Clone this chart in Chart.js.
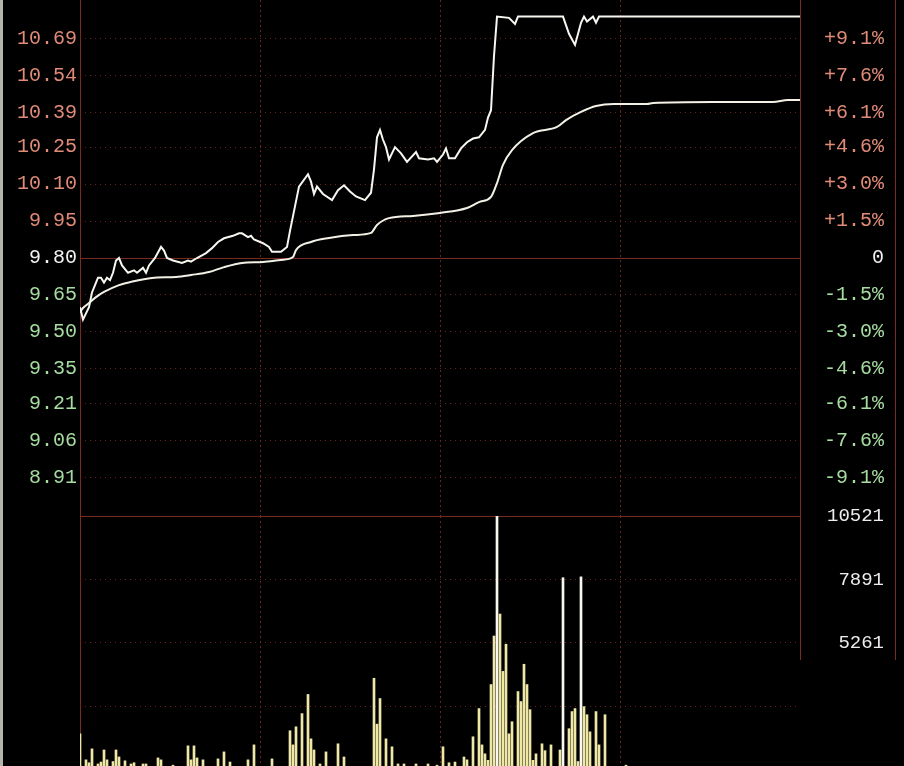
<!DOCTYPE html>
<html>
<head>
<meta charset="utf-8">
<script src="https://cdn.jsdelivr.net/npm/chart.js@4.4.1/dist/chart.umd.min.js"></script>
<style>
  html, body { margin: 0; padding: 0; background: #000; overflow: hidden; }
  #wrap { position: relative; width: 904px; height: 766px; background: #000; overflow: hidden; }
  #priceCanvas { position: absolute; left: 0; top: 0; }
  #volCanvas { position: absolute; left: 0; top: 496px; }
  #edge { position: absolute; left: 0; top: 0; width: 3px; height: 766px; background: #b4b5aa; }
</style>
</head>
<body>
<div id="wrap">
  <canvas id="priceCanvas" width="904" height="516"></canvas>
  <canvas id="volCanvas" width="904" height="274"></canvas>
  <div id="edge"></div>
</div>
<script>
// previous close and axis labels
const prevClose = 9.80;
const priceTicks = [8.91, 9.06, 9.21, 9.35, 9.50, 9.65, 9.80, 9.95, 10.10, 10.25, 10.39, 10.54, 10.69];
const pctLabels = ['-9.1%', '-7.6%', '-6.1%', '-4.6%', '-3.0%', '-1.5%', '0', '+1.5%', '+3.0%', '+4.6%', '+6.1%', '+7.6%', '+9.1%'];
const timeGrid = [60, 120, 180];
const volGrid = [2630, 5261, 7891, 10521];
const volLabels = ['', '5261', '7891', '10521'];

// price line (minute from open, price)
const minutes = [0, 1, 3, 4, 5, 6, 7, 8, 9, 10, 11, 12, 13, 14, 16, 18, 19, 21, 22, 23, 25, 27, 28, 29, 31, 34, 36, 37, 39,
  42, 44, 46, 48, 51, 53, 54, 56, 57, 58, 61, 63, 64, 67, 69, 70, 71, 73, 76, 77, 78, 79, 81, 84, 86, 88, 90, 92, 95,
  97, 98, 99, 100, 101, 102, 103, 105, 107, 109, 112, 113, 116, 118, 119, 121, 122, 123, 125, 127, 129, 131, 133, 135,
  136, 137, 138, 139, 143, 145, 146, 161, 163, 165, 167, 168, 169, 171, 172, 173, 240];
const prices = [9.60, 9.55, 9.60, 9.66, 9.69, 9.72, 9.72, 9.70, 9.72, 9.71, 9.74, 9.79, 9.80, 9.77, 9.74, 9.75, 9.74, 9.76, 9.74, 9.77, 9.80, 9.845, 9.83, 9.80, 9.79, 9.78, 9.79, 9.785, 9.80,
  9.82, 9.84, 9.865, 9.88, 9.89, 9.90, 9.90, 9.885, 9.89, 9.875, 9.86, 9.845, 9.825, 9.825, 9.845, 9.91, 9.97, 10.09, 10.14, 10.11, 10.06, 10.09, 10.06, 10.035, 10.075, 10.095, 10.07, 10.05, 10.035,
  10.065, 10.16, 10.29, 10.32, 10.28, 10.25, 10.20, 10.25, 10.225, 10.19, 10.23, 10.205, 10.20, 10.205, 10.19, 10.22, 10.245, 10.205, 10.205, 10.245, 10.27, 10.285, 10.29, 10.32,
  10.37, 10.40, 10.62, 10.78, 10.775, 10.75, 10.78, 10.78, 10.71, 10.665, 10.755, 10.78, 10.76, 10.78, 10.755, 10.78, 10.78];

// average price line
const avgMinutes = [0, 1, 3, 5, 8, 13, 17, 24, 32, 37, 43, 48, 54, 61, 67, 71, 72, 77, 83, 91, 97, 99, 103, 111, 120, 129,
  133, 137, 139, 141, 144, 151, 159, 162, 167, 172, 178, 189, 191, 211, 231, 236, 240];
const avgPrices = [9.58, 9.597, 9.617, 9.638, 9.662, 9.69, 9.703, 9.719, 9.723, 9.731, 9.743, 9.763, 9.78, 9.784, 9.792, 9.804, 9.832, 9.865, 9.881, 9.893, 9.902, 9.934, 9.962, 9.971, 9.983, 10.003,
  10.027, 10.048, 10.104, 10.178, 10.238, 10.307, 10.332, 10.36, 10.393, 10.417, 10.425, 10.425, 10.429, 10.433, 10.433, 10.441, 10.441];

// volume bars (minute, shares)
const volMinutes = [0, 2, 3, 4, 6, 7, 8, 9, 11, 12, 13, 15, 17, 18, 21, 22, 26, 27, 31, 36, 37, 38, 39, 41, 46, 48, 50, 56, 58, 64,
  70, 71, 72, 74, 76, 77, 78, 80, 82, 86, 88, 98, 99, 100, 102, 104, 106, 108, 112, 116, 119, 121, 123, 125, 128, 129,
  131, 133, 134, 135, 136, 137, 138, 139, 140, 141, 142, 143, 144, 146, 147, 148, 149, 150, 151, 152, 154, 155, 157,
  160, 161, 163, 164, 165, 166, 167, 168, 169, 170, 172, 173, 175, 182];
const volumes = [1500, 420, 300, 875, 250, 330, 830, 420, 350, 830, 540, 380, 250, 300, 250, 250, 500, 420, 200, 1000, 420, 1000, 500, 420, 460, 750, 330, 420, 1040, 460,
  1625, 1040, 1790, 2335, 3130, 1290, 830, 250, 750, 1085, 540, 3800, 1900, 2960, 1290, 960, 250, 250, 250, 250, 200, 960, 300, 330, 540, 420,
  1375, 2545, 1040, 670, 400, 3540, 5550, 10521, 6460, 4085, 5210, 1500, 2000, 3250, 2835, 4380, 3540, 2500, 400, 670, 1085, 800, 1040,
  830, 7965, 1710, 2420, 2545, 350, 8000, 2625, 2290, 1580, 2420, 1040, 2290, 200];

const monoFont = 'Liberation Mono, DejaVu Sans Mono, monospace';
const gridColor = '#6c2320';
const frameColor = '#7c2a20';

function tickColor(c) {
  const v = c.tick ? c.tick.value : prevClose;
  if (v > prevClose + 0.001) return '#e08a78';
  if (v < prevClose - 0.001) return '#a6dca0';
  return '#f2f2f2';
}

// fixed axis sizes, no extra label padding
function fitY(width) {
  return s => { s.width = width; s.paddingTop = 0; s.paddingBottom = 0; };
}

// solid frame lines and the previous-close line
const framePlugin = {
  id: 'frame',
  beforeDatasetsDraw(chart, args, opts) {
    const { ctx, chartArea: a, scales } = chart;
    const bottom = opts.bottom || chart.height;
    ctx.save();
    ctx.strokeStyle = frameColor;
    ctx.lineWidth = 1;
    ctx.beginPath();
    (opts.yValues || []).forEach(v => {
      const y = Math.round(scales.y.getPixelForValue(v)) + 0.5;
      ctx.moveTo(a.left, y);
      ctx.lineTo(a.right, y);
    });
    const lx = Math.round(a.left) + 0.5;
    ctx.moveTo(lx, 0);
    ctx.lineTo(lx, chart.height);
    [a.right, 895].forEach(x => {
      const px = Math.round(x) + 0.5;
      ctx.moveTo(px, 0);
      ctx.lineTo(px, bottom);
    });
    ctx.stroke();
    ctx.restore();
  }
};

function makeX() {
  return {
    type: 'linear', min: 0, max: 240, offset: false,
    afterBuildTicks: s => { s.ticks = timeGrid.map(v => ({ value: v })); },
    ticks: { display: false },
    grid: { color: gridColor, drawTicks: false, offset: false },
    border: { display: false, dash: [2, 3] },
    afterFit: s => { s.height = 0; s.paddingLeft = 0; s.paddingRight = 0; }
  };
}

new Chart(document.getElementById('priceCanvas'), {
  type: 'line',
  data: {
    datasets: [
      {
        data: minutes.map((m, i) => ({ x: m, y: prices[i] })),
        borderColor: '#f7f7f2', borderWidth: 2, pointRadius: 0, tension: 0
      },
      {
        data: avgMinutes.map((m, i) => ({ x: m, y: avgPrices[i] })),
        borderColor: '#f3f1e6', borderWidth: 2, pointRadius: 0, cubicInterpolationMode: 'monotone'
      }
    ]
  },
  options: {
    responsive: false, animation: false,
    layout: { padding: { left: 0, right: 20, top: 0, bottom: 0 } },
    plugins: { legend: { display: false }, tooltip: { enabled: false }, frame: { yValues: [prevClose] } },
    scales: {
      x: makeX(),
      y: {
        position: 'left', min: 8.7526, max: 10.8474,
        afterBuildTicks: s => { s.ticks = priceTicks.map(v => ({ value: v })); },
        ticks: { color: tickColor, font: { family: monoFont, size: 20 }, padding: 3, callback: v => v.toFixed(2) },
        grid: { color: c => (c.tick && Math.abs(c.tick.value - prevClose) < 0.001) ? 'rgba(0,0,0,0)' : gridColor, drawTicks: false },
        border: { display: false, dash: [1, 4] },
        afterFit: fitY(80)
      },
      yPct: {
        position: 'right', min: 8.7526, max: 10.8474,
        afterBuildTicks: s => { s.ticks = priceTicks.map(v => ({ value: v })); },
        ticks: { color: tickColor, font: { family: monoFont, size: 20 }, crossAlign: 'far', callback: (v, i) => pctLabels[i] },
        grid: { display: false, drawTicks: false },
        border: { display: false },
        afterFit: fitY(84)
      }
    }
  },
  plugins: [framePlugin]
});

new Chart(document.getElementById('volCanvas'), {
  type: 'bar',
  data: {
    datasets: [{
      data: volMinutes.map((m, i) => ({ x: m, y: volumes[i] })),
      backgroundColor: c => (c.raw && c.raw.y > 7000) ? '#f8f8f0' : '#efe7a6',
      barThickness: 2
    }]
  },
  options: {
    responsive: false, animation: false,
    layout: { padding: { left: 0, right: 20, top: 20, bottom: 0 } },
    plugins: { legend: { display: false }, tooltip: { enabled: false }, frame: { yValues: [10521], bottom: 164 } },
    scales: {
      x: makeX(),
      y: {
        position: 'left', min: 0, max: 10521,
        afterBuildTicks: s => { s.ticks = volGrid.map(v => ({ value: v })); },
        ticks: { display: false },
        grid: { color: c => (c.tick && c.tick.value === 10521) ? 'rgba(0,0,0,0)' : gridColor, drawTicks: false },
        border: { display: false, dash: [1, 4] },
        afterFit: fitY(80)
      },
      yVol: {
        position: 'right', min: 0, max: 10521,
        afterBuildTicks: s => { s.ticks = volGrid.map(v => ({ value: v })); },
        ticks: { color: '#ececec', font: { family: monoFont, size: 19 }, crossAlign: 'far', callback: (v, i) => volLabels[i] },
        grid: { display: false, drawTicks: false },
        border: { display: false },
        afterFit: fitY(84)
      }
    }
  },
  plugins: [framePlugin]
});
</script>
</body>
</html>
